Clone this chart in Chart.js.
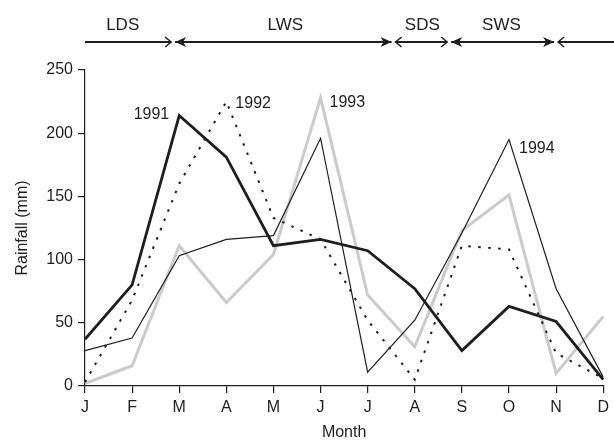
<!DOCTYPE html>
<html>
<head>
<meta charset="utf-8">
<script src="https://cdn.jsdelivr.net/npm/chart.js@4.4.1/dist/chart.umd.min.js"></script>
<style>
  html, body { margin: 0; padding: 0; background: #fff; }
  #wrap { width: 614px; height: 442px; position: relative; }
</style>
</head>
<body>
<div id="wrap"><canvas id="rain"></canvas></div>
<script>
// --- data ---
const months = ['J', 'F', 'M', 'A', 'M', 'J', 'J', 'A', 'S', 'O', 'N', 'D'];
const rain1991 = [37, 80, 214, 181, 111, 116, 107, 77, 28, 63, 51, 5];
const rain1992 = [3, 68, 160, 225, 133, 116, 52, 5, 111, 108, 26, 6];
const rain1993 = [2, 16, 111, 66, 104, 228, 72, 31, 123, 151, 10, 55];
const rain1994 = [28, 38, 103, 116, 119, 196, 11, 52, 121, 195, 77, 7];
const yTicks = [0, 50, 100, 150, 200, 250];

// seasons along the top (edges in month-index units)
const seasonNames = ['LDS', 'LWS', 'SDS', 'SWS'];
const seasonCentres = [0.8, 4.25, 7.16, 8.84];
const seasonEdges = [1.87, 6.55, 7.73, 10.0];

const FONT = '"Liberation Sans", Arial, sans-serif';
const INK = '#1e1e1e';

// arrow helpers
function openHead(ctx, x, y, dir) {
    ctx.beginPath();
    ctx.moveTo(x - dir * 6, y - 5);
    ctx.lineTo(x, y);
    ctx.lineTo(x - dir * 6, y + 5);
    ctx.stroke();
}
function filledHead(ctx, x, y, dir) {
    ctx.beginPath();
    ctx.moveTo(x, y);
    ctx.lineTo(x - dir * 11, y - 5);
    ctx.lineTo(x - dir * 8, y);
    ctx.lineTo(x - dir * 11, y + 5);
    ctx.closePath();
    ctx.fill();
}

const annotations = {
    id: 'annotations',
    afterDraw(chart) {
        const ctx = chart.ctx;
        const xs = chart.scales.x;
        const ys = chart.scales.y;
        const yBand = 42;
        ctx.save();
        ctx.strokeStyle = INK;
        ctx.fillStyle = INK;
        ctx.lineWidth = 2;

        // season line segments
        const pts = seasonEdges.map(e => xs.getPixelForValue(e));
        let start = chart.chartArea.left;
        pts.forEach(p => {
            ctx.beginPath();
            ctx.moveTo(start, yBand);
            ctx.lineTo(p - 2, yBand);
            ctx.stroke();
            start = p + 2;
        });
        ctx.beginPath();
        ctx.moveTo(start, yBand);
        ctx.lineTo(614, yBand);
        ctx.stroke();

        ctx.lineWidth = 1.5;
        pts.forEach((p, i) => {
            if (i % 2 === 0) {
                openHead(ctx, p - 2, yBand, 1);
                filledHead(ctx, p + 2, yBand, -1);
            } else {
                filledHead(ctx, p - 2, yBand, 1);
                openHead(ctx, p + 2, yBand, -1);
            }
        });

        ctx.font = '17px ' + FONT;
        ctx.textAlign = 'center';
        ctx.textBaseline = 'middle';
        seasonNames.forEach((n, i) => {
            ctx.fillText(n, xs.getPixelForValue(seasonCentres[i]), 25);
        });

        // series labels next to their peaks
        ctx.font = '16px ' + FONT;
        ctx.textAlign = 'right';
        ctx.fillText('1991', xs.getPixelForValue(2) - 10, ys.getPixelForValue(rain1991[2]) - 1);
        ctx.textAlign = 'left';
        ctx.fillText('1992', xs.getPixelForValue(3) + 9, ys.getPixelForValue(rain1992[3]) + 2);
        ctx.fillText('1993', xs.getPixelForValue(5) + 9, ys.getPixelForValue(rain1993[5]) + 5);
        ctx.fillText('1994', xs.getPixelForValue(9) + 10, ys.getPixelForValue(rain1994[9]) + 9);
        ctx.restore();
    }
};

new Chart(document.getElementById('rain').getContext('2d'), {
    type: 'line',
    data: {
        labels: months,
        datasets: [
            { label: '1991', data: rain1991, borderColor: INK, borderWidth: 2.8, order: 0 },
            { label: '1994', data: rain1994, borderColor: INK, borderWidth: 1.2, order: 1 },
            { label: '1992', data: rain1992, borderColor: INK, borderWidth: 2, borderDash: [2.5, 7.5], order: 2 },
            { label: '1993', data: rain1993, borderColor: '#cbcbcb', borderWidth: 3, order: 3 }
        ]
    },
    options: {
        responsive: true,
        maintainAspectRatio: false,
        animation: false,
        elements: { point: { radius: 0 }, line: { tension: 0, fill: false } },
        layout: { padding: { left: 0, right: 6.5, top: 70, bottom: 0 } },
        plugins: { legend: { display: false }, tooltip: { enabled: false } },
        scales: {
            x: {
                offset: false,
                grid: { display: true, drawOnChartArea: false, drawTicks: true, tickLength: 7, color: INK, lineWidth: 1.2 },
                border: { display: true, color: INK, width: 1.2 },
                ticks: { color: INK, font: { family: FONT, size: 16 }, padding: 5, autoSkip: false, maxRotation: 0 },
                title: { display: true, text: 'Month', color: INK, font: { family: FONT, size: 16 }, padding: { top: 0, bottom: 0 } },
                afterFit: function(scale) { scale.height = 56; }
            },
            y: {
                min: 0,
                max: 250,
                afterBuildTicks: function(scale) { scale.ticks = yTicks.map(v => ({ value: v })); },
                grid: { display: true, drawOnChartArea: false, drawTicks: true, tickLength: 7, color: INK, lineWidth: 1.2 },
                border: { display: true, color: INK, width: 1.2 },
                ticks: { color: INK, font: { family: FONT, size: 16 }, padding: 5 },
                title: { display: true, text: 'Rainfall (mm)', color: INK, font: { family: FONT, size: 16 }, padding: { top: 13, bottom: 0 } },
                afterFit: function(scale) { scale.width = 85; }
            }
        }
    },
    plugins: [annotations]
});
</script>
</body>
</html>
